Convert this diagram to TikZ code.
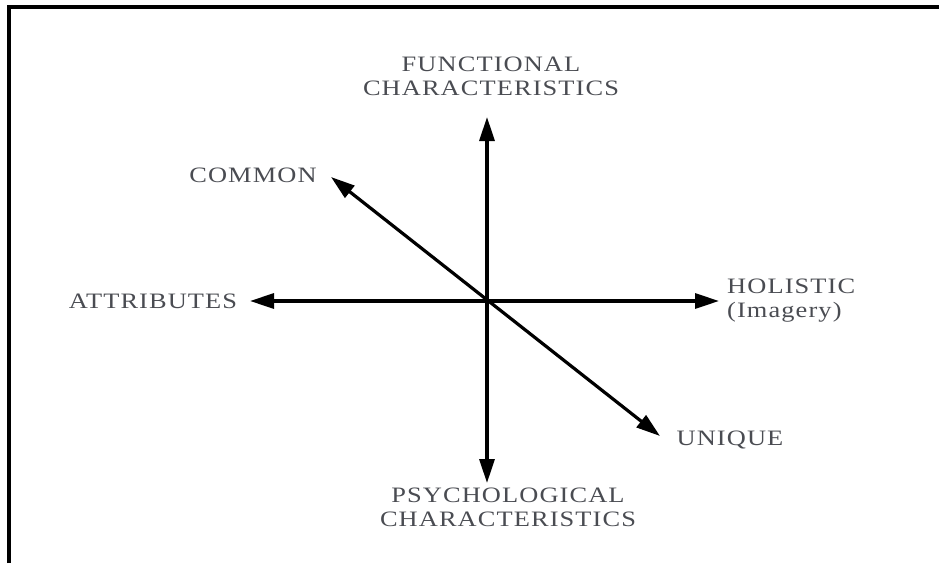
\documentclass[tikz,border=0pt]{standalone}
\usepackage{fontspec}
\setmainfont{Liberation Serif}[FakeStretch=1.2,LetterSpace=5]
\usepackage{tikz}
\usetikzlibrary{arrows.meta}
\definecolor{labelgray}{HTML}{4A4C52}

\begin{document}
\begin{tikzpicture}[x=1pt,y=-1pt,>={Triangle[length=24pt,width=15pt]},
    lbl/.style={text=labelgray,font=\fontsize{22}{24}\selectfont,inner sep=0pt},
    axis/.style={<->,line width=3.2pt}]
    \useasboundingbox (0,0) rectangle (939,563);
    % frame (only top and left edges show)
    \draw[line width=3.5pt] (9,563) -- (9,7) -- (939,7);
    \coordinate (o) at (487,301);
    \coordinate (topTip) at (487,117);
    \coordinate (botTip) at (487,483);
    \coordinate (leftTip) at (250,301);
    \coordinate (rightTip) at (719,301);
    \coordinate (commonTip) at (331,177);
    \coordinate (uniqueTip) at (660,436);
    \draw[axis] (topTip) -- (botTip);
    \draw[axis] (leftTip) -- (rightTip);
    \draw[axis] (commonTip) -- (uniqueTip);
    \node[lbl,align=center] (func) at (491,76) {FUNCTIONAL\\CHARACTERISTICS};
    \node[lbl,align=center] (psych) at (508,507) {PSYCHOLOGICAL\\CHARACTERISTICS};
    \node[lbl] (common) at (253,175) {COMMON};
    \node[lbl] (attr) at (153,301) {ATTRIBUTES};
    \node[lbl,align=left,anchor=west] (holistic) at (727,301) {HOLISTIC\\(Imagery)};
    \node[lbl] (unique) at (730,440) {UNIQUE};
\end{tikzpicture}
\end{document}
